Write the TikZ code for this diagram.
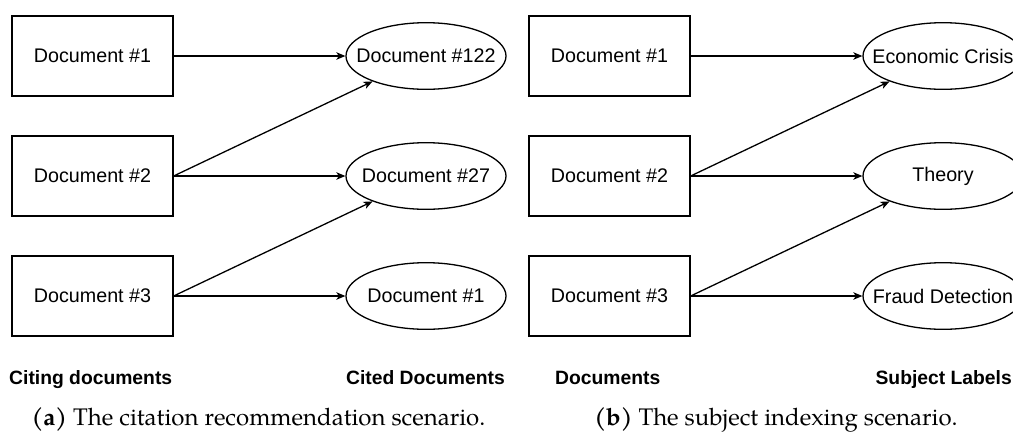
\documentclass[tikz,border=0pt]{standalone}
\usepackage{fontspec}
\setsansfont{Liberation Sans}
\newfontfamily\capfamily{texgyrepagella}[Extension=.otf,
  UprightFont=*-regular, BoldFont=*-bold]
\usetikzlibrary{shapes.geometric,arrows.meta}

% zero-width text, so the ellipse keeps its own fixed size
\newcommand{\ztext}[1]{\makebox[0pt][c]{#1}}

\tikzset{
  docbox/.style={draw, line width=1.3pt, rectangle, minimum width=161pt,
    minimum height=80pt, inner sep=0pt,
    font=\sffamily\fontsize{19.7}{23}\selectfont},
  target/.style={draw, line width=1.3pt, ellipse, minimum width=160pt,
    minimum height=66.6pt, inner sep=0pt,
    font=\sffamily\fontsize{19.7}{23}\selectfont},
  link/.style={line width=1.3pt, -{Stealth[length=9pt,width=7.5pt,inset=2.5pt]}},
  colhead/.style={inner sep=0pt, font=\sffamily\bfseries\fontsize{19.3}{23}\selectfont},
  subcap/.style={inner sep=0pt, font=\capfamily\fontsize{24}{28}\selectfont}
}

\begin{document}
\begin{tikzpicture}[x=1pt, y=-1pt]
\useasboundingbox (0,0) rectangle (1013,432);
\begin{scope}
\clip (0,0) rectangle (1013,432);

% (a) citation recommendation
\node[docbox] (a1) at (92.5,56)  {Document \#1};
\node[docbox] (a2) at (92.5,176) {Document \#2};
\node[docbox] (a3) at (92.5,296) {Document \#3};
\node[target] (c1) at (426,56)  {\ztext{Document \#122}};
\node[target] (c2) at (426,176) {\ztext{Document \#27}};
\node[target] (c3) at (426,296) {\ztext{Document \#1}};

\draw[link] (a1) -- (c1);
\draw[link] (a2.east) -- (c1);
\draw[link] (a2) -- (c2);
\draw[link] (a3.east) -- (c2);
\draw[link] (a3) -- (c3);

% (b) subject indexing
\node[docbox] (b1) at (609.5,56)  {Document \#1};
\node[docbox] (b2) at (609.5,176) {Document \#2};
\node[docbox] (b3) at (609.5,296) {Document \#3};
\node[target] (s1) at (943,56)  {\ztext{Economic Crisis}};
\node[target] (s2) at (943,176) {\ztext{Theory}};
\node[target] (s3) at (943,296) {\ztext{Fraud Detection}};

\draw[link] (b1) -- (s1);
\draw[link] (b2.east) -- (s1);
\draw[link] (b2) -- (s2);
\draw[link] (b3.east) -- (s2);
\draw[link] (b3) -- (s3);
\end{scope}

% column headings
\node[colhead, anchor=base west] (h1) at (9,384)    {Citing documents};
\node[colhead, anchor=base east] (h2) at (505,384)  {Cited Documents};
\node[colhead, anchor=base west] (h3) at (555,384)  {Documents};
\node[colhead, anchor=base east] (h4) at (1012,384) {Subject Labels};

% sub-captions
\node[subcap, anchor=base] (capa) at (258.5,425.5) {\textbf{(a)} The citation recommendation scenario.};
\node[subcap, anchor=base] (capb) at (776,425.5)   {\textbf{(b)} The subject indexing scenario.};
\end{tikzpicture}
\end{document}
